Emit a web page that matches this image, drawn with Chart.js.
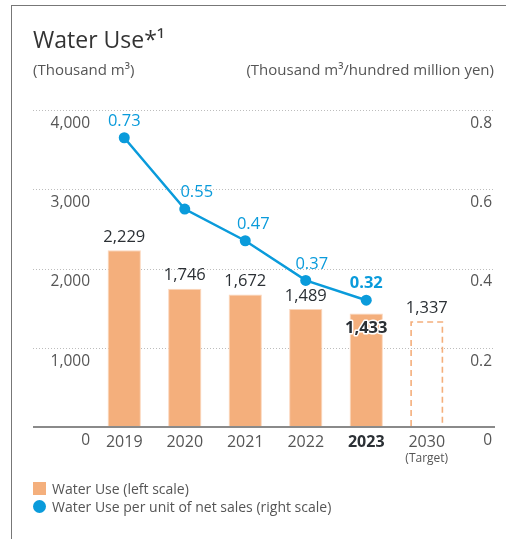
<!DOCTYPE html>
<html>
<head>
<meta charset="utf-8">
<script src="https://cdn.jsdelivr.net/npm/chart.js@4"></script>
<style>
  html, body { margin:0; padding:0; background:#fff; }
  body { width:506px; height:539px; position:relative; overflow:hidden; font-family:"Open Sans", sans-serif; }
  #frame { position:absolute; left:11px; top:5px; width:495px; height:540px; border-left:1.5px solid #777; border-top:1.5px solid #777; }
  #wrap { position:absolute; left:0; top:0; width:506px; height:539px; }
  .t { position:absolute; white-space:nowrap; }
  #title { left:33px; top:23px; font-size:23px; color:#333; }
  #unitL { left:33px; top:59px; font-size:15px; color:#555; }
  #unitR { right:12px; top:59px; font-size:15px; color:#555; }
  #legend { position:absolute; left:33px; top:479px; font-size:14px; color:#555; }
  .li { display:flex; align-items:center; height:18px; }
  .sw { width:13px; height:13px; margin-right:6px; }
</style>
</head>
<body>
<div id="frame"></div>
<div id="wrap"><canvas id="c" width="506" height="539"></canvas></div>
<div class="t" id="title">Water Use*¹</div>
<div class="t" id="unitL">(Thousand m³)</div>
<div class="t" id="unitR">(Thousand m³/hundred million yen)</div>
<div id="legend">
  <div class="li"><div class="sw" style="background:#F4AF7C"></div>Water Use (left scale)</div>
  <div class="li"><div class="sw" style="background:#0A9BDB;border-radius:50%"></div>Water Use per unit of net sales (right scale)</div>
</div>
<script>
const categories = ['2019', '2020', '2021', '2022', '2023', '2030'];
const waterUse = [2229, 1746, 1672, 1489, 1433, 1337];
const perSales = [0.73, 0.55, 0.47, 0.37, 0.32, null];
const leftTicks = [0, 1000, 2000, 3000, 4000];
const rightTicks = [0, 0.2, 0.4, 0.6, 0.8];
const targetNote = '(Target)';

const ORANGE = '#F4AF7C';
const BLUE = '#0A9BDB';
const FONT = '"Open Sans", sans-serif';
const TARGET_IDX = categories.length - 1;
const BOLD_IDX = 4;
// horizontal nudge of the line labels (style only)
const lineLabelShift = [0, 12, 8, 6, 0, 0];

const gridPlugin = {
  id: 'gridPlugin',
  beforeDatasetsDraw(chart) {
    const ctx = chart.ctx, y = chart.scales.y;
    ctx.save();
    ctx.strokeStyle = '#bdbdbd';
    ctx.lineWidth = 1;
    ctx.setLineDash([1, 2]);
    y.ticks.forEach(t => {
      if (t.value === 0) return;
      const py = Math.round(y.getPixelForValue(t.value)) + 0.5;
      ctx.beginPath(); ctx.moveTo(33, py); ctx.lineTo(495, py); ctx.stroke();
    });
    ctx.restore();
  },
  afterDatasetsDraw(chart) {
    const ctx = chart.ctx, y = chart.scales.y;
    ctx.save();
    ctx.strokeStyle = '#8a8a8a';
    ctx.lineWidth = 2;
    const py = y.getPixelForValue(0);
    ctx.beginPath(); ctx.moveTo(33, py); ctx.lineTo(495, py); ctx.stroke();
    const el = chart.getDatasetMeta(1).data[TARGET_IDX];
    const bw = el.width;
    ctx.strokeStyle = ORANGE;
    ctx.lineWidth = 1.6;
    ctx.setLineDash([6, 4]);
    ctx.beginPath();
    ctx.moveTo(el.x - bw / 2 + 1, el.base - 1);
    ctx.lineTo(el.x - bw / 2 + 1, el.y + 1);
    ctx.lineTo(el.x + bw / 2 - 1, el.y + 1);
    ctx.lineTo(el.x + bw / 2 - 1, el.base - 1);
    ctx.stroke();
    ctx.restore();
  }
};

const labelPlugin = {
  id: 'labelPlugin',
  afterDraw(chart) {
    const ctx = chart.ctx;
    ctx.save();
    ctx.textAlign = 'center';
    ctx.textBaseline = 'middle';
    const bars = chart.getDatasetMeta(1).data;
    bars.forEach((el, i) => {
      const txt = waterUse[i].toLocaleString('en-US');
      if (i === BOLD_IDX) {
        ctx.font = 'bold 16.5px ' + FONT;
        ctx.lineJoin = 'round';
        ctx.strokeStyle = '#fff';
        ctx.lineWidth = 3;
        ctx.strokeText(txt, el.x, el.y + 15);
        ctx.fillStyle = '#2b3035';
        ctx.fillText(txt, el.x, el.y + 15);
      } else {
        ctx.font = '16.5px ' + FONT;
        ctx.fillStyle = '#2b3035';
        ctx.fillText(txt, el.x, el.y - 13);
      }
    });
    const pts = chart.getDatasetMeta(0).data;
    pts.forEach((el, i) => {
      if (perSales[i] == null) return;
      ctx.font = (i === BOLD_IDX ? 'bold ' : '500 ') + '16.5px ' + FONT;
      ctx.fillStyle = BLUE;
      ctx.fillText(perSales[i].toFixed(2), el.x + lineLabelShift[i], el.y - 16.5);
    });
    const x = chart.scales.x.getPixelForValue(TARGET_IDX);
    ctx.font = '12px ' + FONT;
    ctx.fillStyle = '#555';
    ctx.fillText(targetNote, x, 459);
    ctx.restore();
  }
};

new Chart(document.getElementById('c'), {
  data: {
    labels: categories,
    datasets: [
      {
        type: 'line',
        label: 'Water Use per unit of net sales (right scale)',
        data: perSales,
        yAxisID: 'y1',
        borderColor: BLUE,
        backgroundColor: BLUE,
        borderWidth: 2.5,
        pointRadius: 5.5,
        pointBackgroundColor: BLUE,
        pointBorderWidth: 0,
        spanGaps: false,
        order: 0
      },
      {
        type: 'bar',
        label: 'Water Use (left scale)',
        data: waterUse,
        yAxisID: 'y',
        backgroundColor: waterUse.map((v, i) => i === TARGET_IDX ? 'rgba(255,255,255,0)' : ORANGE),
        borderColor: waterUse.map((v, i) => i === TARGET_IDX ? 'rgba(255,255,255,0)' : '#FBD6BC'),
        borderWidth: 1,
        barPercentage: 0.55,
        categoryPercentage: 1,
        order: 1
      }
    ]
  },
  options: {
    responsive: false,
    animation: false,
    events: [],
    layout: { padding: { top: 110, bottom: 72, left: 0, right: 14 } },
    plugins: { legend: { display: false }, tooltip: { enabled: false }, title: { display: false } },
    scales: {
      x: {
        grid: { display: false, drawTicks: false },
        border: { display: false },
        ticks: {
          padding: 6,
          font: ctx => ({ family: FONT, size: 16, weight: ctx.index === BOLD_IDX ? 'bold' : 'normal' }),
          color: ctx => ctx.index === BOLD_IDX ? '#2b3035' : '#555'
        },
        afterFit: s => { s.height = 40; }
      },
      y: {
        position: 'left',
        min: 0, max: 4000,
        afterBuildTicks: s => { s.ticks = leftTicks.map(v => ({ value: v })); },
        grid: { display: false, drawTicks: false },
        border: { display: false },
        ticks: {
          padding: 4,
          labelOffset: 13.5,
          font: { family: FONT, size: 15.5 },
          color: '#555',
          callback: v => v.toLocaleString('en-US')
        },
        afterFit: s => { s.width = 94; }
      },
      y1: {
        position: 'right',
        min: 0, max: 0.8,
        afterBuildTicks: s => { s.ticks = rightTicks.map(v => ({ value: v })); },
        grid: { display: false, drawTicks: false },
        border: { display: false },
        ticks: {
          padding: 13,
          crossAlign: 'far',
          labelOffset: 13.5,
          font: { family: FONT, size: 15.5 },
          color: '#555',
          callback: v => v === 0 ? '0' : v.toFixed(1)
        },
        afterFit: s => { s.width = 35; }
      }
    }
  },
  plugins: [gridPlugin, labelPlugin]
});
</script>
</body>
</html>
